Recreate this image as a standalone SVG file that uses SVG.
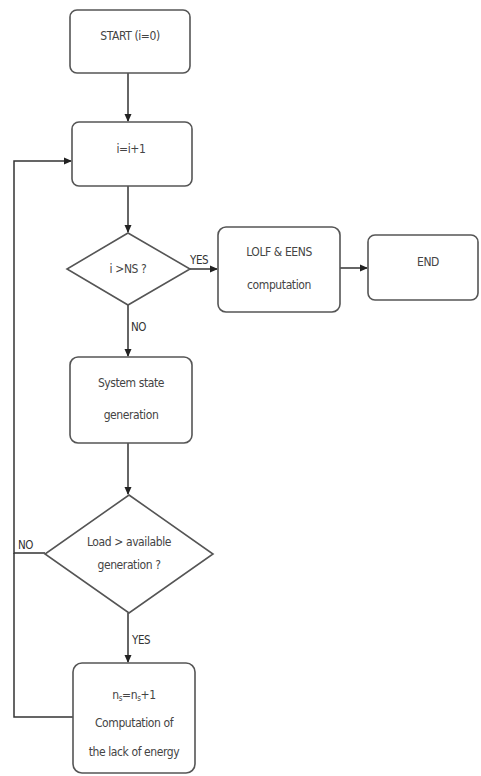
<svg xmlns="http://www.w3.org/2000/svg" width="481" height="776" viewBox="0 0 481 776">
<defs>
<marker id="ah" markerWidth="8" markerHeight="8" refX="7" refY="4" orient="auto" markerUnits="userSpaceOnUse">
<path d="M0,0.5 L8,4 L0,7.5 Z" fill="#222"/>
</marker>
<style>
.box{fill:#fff;stroke:#555;stroke-width:1.6}
.line{fill:none;stroke:#333;stroke-width:1.5}
.t{font-family:"DejaVu Sans Condensed","Liberation Sans",sans-serif;font-size:12px;letter-spacing:-0.4px;fill:#444;text-anchor:middle}
.lbl{font-family:"DejaVu Sans Condensed","Liberation Sans",sans-serif;font-size:11.5px;letter-spacing:-0.4px;fill:#333}
</style>
</defs>
<rect width="481" height="776" fill="#fff"/>
<g id="connectors">
<line class="line" x1="128" y1="73" x2="128" y2="121" marker-end="url(#ah)"/>
<line class="line" x1="128" y1="186" x2="128" y2="232" marker-end="url(#ah)"/>
<line class="line" x1="190" y1="269" x2="217" y2="269" marker-end="url(#ah)"/>
<line class="line" x1="340" y1="268" x2="367" y2="268" marker-end="url(#ah)"/>
<line class="line" x1="128" y1="305" x2="128" y2="356" marker-end="url(#ah)"/>
<line class="line" x1="128" y1="443" x2="128" y2="494" marker-end="url(#ah)"/>
<line class="line" x1="128" y1="613" x2="128" y2="662" marker-end="url(#ah)"/>
<polyline class="line" points="45,553 14,553 14,161 71,161" marker-end="url(#ah)"/>
<polyline class="line" points="73,717 14,717 14,553"/>
<text class="lbl" x="190" y="264">YES</text>
<text class="lbl" x="131" y="331">NO</text>
<text class="lbl" x="18" y="549">NO</text>
<text class="lbl" x="132" y="644">YES</text>
</g>
<g id="start">
<rect class="box" x="70" y="10" width="120" height="63" rx="7"/>
<text class="t" x="130" y="40">START (i=0)</text>
</g>
<g id="increment">
<rect class="box" x="72" y="122" width="120" height="64" rx="7"/>
<text class="t" x="131" y="153">i=i+1</text>
</g>
<g id="decision1">
<polygon class="box" points="128,233 190,269 128,305 67,269"/>
<text class="t" x="128" y="273">i &gt;NS ?</text>
</g>
<g id="lolf">
<rect class="box" x="218" y="227" width="122" height="85" rx="8"/>
<text class="t" x="279" y="256">LOLF &amp; EENS</text>
<text class="t" x="279" y="289">computation</text>
</g>
<g id="end">
<rect class="box" x="368" y="235" width="110" height="65" rx="7"/>
<text class="t" x="428" y="266">END</text>
</g>
<g id="state">
<rect class="box" x="70" y="357" width="122" height="86" rx="8"/>
<text class="t" x="131" y="387">System state</text>
<text class="t" x="131" y="419">generation</text>
</g>
<g id="decision2">
<polygon class="box" points="129,495 213,554 129,613 45,554"/>
<text class="t" x="129" y="546">Load &gt; available</text>
<text class="t" x="129" y="569">generation ?</text>
</g>
<g id="lack">
<rect class="box" x="73" y="663" width="122" height="110" rx="9"/>
<text class="t" x="134" y="699">n<tspan font-size="8" dy="2">s</tspan><tspan dy="-2">=n</tspan><tspan font-size="8" dy="2">s</tspan><tspan dy="-2">+1</tspan></text>
<text class="t" x="134" y="727">Computation of</text>
<text class="t" x="134" y="756">the lack of energy</text>
</g>
</svg>
